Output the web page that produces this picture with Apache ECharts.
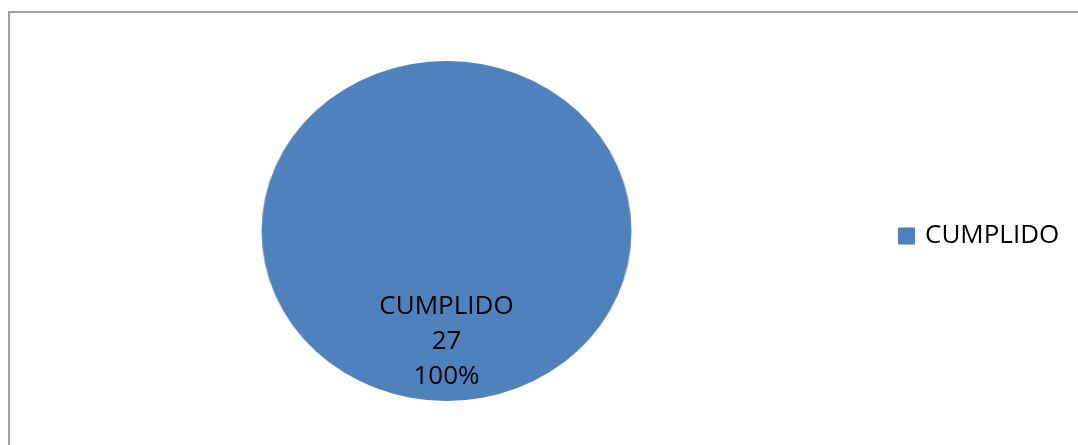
<!DOCTYPE html>
<html>
<head>
<meta charset="utf-8">
<script src="https://cdn.jsdelivr.net/npm/echarts@6/dist/echarts.min.js"></script>
<style>
  html, body { margin: 0; padding: 0; background: #fff; }
  #wrap { position: relative; width: 1078px; height: 445px; overflow: hidden; }
  #pie, #front { position: absolute; left: 0; top: 0; width: 1078px; height: 445px; }
  /* la torta de Excel sale un poco ovalada */
  #pie { transform: scaleX(1.088); transform-origin: 446.5px 231px; }
</style>
</head>
<body>
<div id="wrap">
  <div id="pie"></div>
  <div id="front"></div>
</div>
<script>
// datos
const categorias = ['CUMPLIDO']
const valores = [27]
const colores = ['#4f81bd']

const serieData = categorias.map((c, i) => ({ name: c, value: valores[i] }))

const centro = [446.5, 231]
const radio = 170
const fuente = '"Open Sans", sans-serif'

// capa de atras: solo la torta (escalada por css)
let pieChart = echarts.init(document.getElementById('pie'))
pieChart.setOption({
  animation: false,
  color: colores,
  series: [{
    type: 'pie',
    center: centro,
    radius: radio,
    silent: true,
    label: { show: false },
    labelLine: { show: false },
    itemStyle: { borderWidth: 0 },
    data: serieData
  }]
})

// capa de adelante: etiquetas, leyenda y borde
let frontChart = echarts.init(document.getElementById('front'))
frontChart.setOption({
  animation: false,
  graphic: [{
    type: 'rect',
    shape: { x: 9, y: 12, width: 1200, height: 600 },
    style: { fill: 'none', stroke: '#a0a0a0', lineWidth: 2 },
    silent: true
  }],
  legend: {
    orient: 'vertical',
    left: 893,
    top: 218,
    itemWidth: 17,
    itemHeight: 17,
    itemGap: 10,
    icon: 'rect',
    textStyle: { fontFamily: fuente, fontSize: 26, color: '#000', padding: [0, 0, 0, 5] },
    data: categorias.map((c, i) => ({ name: c, itemStyle: { color: colores[i] } }))
  },
  series: [{
    type: 'pie',
    center: centro,
    radius: radio,
    silent: true,
    itemStyle: { color: 'rgba(0,0,0,0)', borderWidth: 0 },
    label: {
      show: true,
      position: 'inside',
      formatter: '{b}\n{c}\n{d}%',
      fontFamily: fuente,
      fontSize: 26,
      lineHeight: 35,
      color: '#000',
      align: 'center',
      offset: [0, 23]
    },
    labelLine: { show: false },
    data: serieData
  }]
})
</script>
</body>
</html>
